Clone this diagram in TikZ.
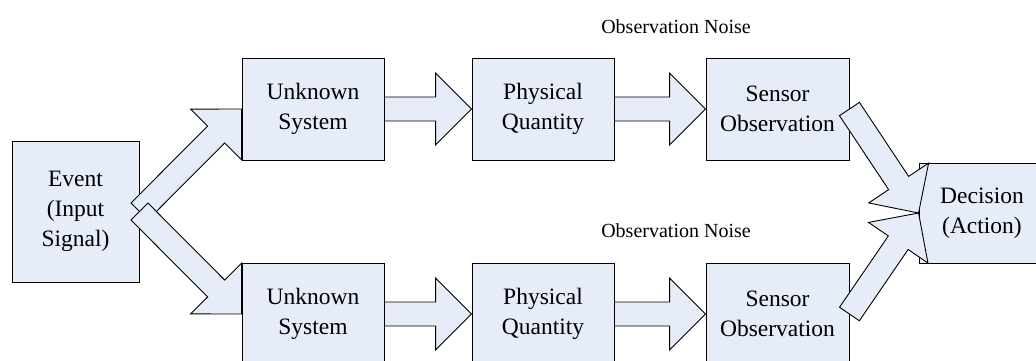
\documentclass[tikz,border=0pt]{standalone}
\usepackage{fontspec}
\setmainfont{Liberation Serif}
\usetikzlibrary{calc}
\definecolor{boxfill}{RGB}{230,236,248}
\tikzset{
  blk/.style={draw=black, fill=boxfill, line width=0.9pt, inner sep=0pt, align=center,
    font=\fontsize{23.5}{30}\selectfont},
  rowbox/.style={blk, minimum width=142pt, minimum height=102pt},
  barrow/.style={draw=black, fill=boxfill, line width=0.9pt, line join=miter},
  noiselabel/.style={inner sep=0pt, anchor=base, font=\fontsize{20}{24}\selectfont}
}
\newcommand\blockarr[2]{%
  \coordinate (ah) at ($(#2)!36pt!(#1)$);
  \draw[barrow] ($(#1)!12pt!90:(#2)$) -- ($(ah)!12pt!90:(#2)$) -- ($(ah)!36pt!90:(#2)$)
    -- (#2) -- ($(ah)!36pt!-90:(#2)$) -- ($(ah)!12pt!-90:(#2)$) -- ($(#1)!12pt!-90:(#2)$) -- cycle;
}
\begin{document}
\begin{tikzpicture}[x=1pt,y=1pt]
\useasboundingbox (0,0) rectangle (1036,-360);
\clip (0,0) rectangle (1036,-360);
% boxes
\node[blk, minimum width=127pt, minimum height=141pt] (ev) at (75.5,-211.5) {Event\\(Input\\Signal)};
\node[rowbox] (us1) at (313,-109) {Unknown\\System};
\node[rowbox] (pq1) at (543,-109) {Physical\\Quantity};
\node[rowbox, minimum width=143pt] (so1) at (777.5,-109) {Sensor\\Observation};
\node[rowbox] (us2) at (313,-314) {Unknown\\System};
\node[rowbox] (pq2) at (543,-314) {Physical\\Quantity};
\node[rowbox, minimum width=143pt] (so2) at (777.5,-314) {Sensor\\Observation};
\node[blk, minimum width=126pt, minimum height=100pt] (dec) at (982,-213) {Decision\\(Action)};
% labels
\node[noiselabel] (n1) at (676,-33) {Observation Noise};
\node[noiselabel] (n2) at (676,-237) {Observation Noise};
% arrows
\blockarr{ev.east}{us1.west}
\blockarr{ev.east}{us2.west}
\blockarr{us1.east}{pq1.west}
\blockarr{pq1.east}{so1.west}
\blockarr{us2.east}{pq2.west}
\blockarr{pq2.east}{so2.west}
\blockarr{so1.east}{dec.west}
\blockarr{so2.east}{dec.west}
\end{tikzpicture}
\end{document}
